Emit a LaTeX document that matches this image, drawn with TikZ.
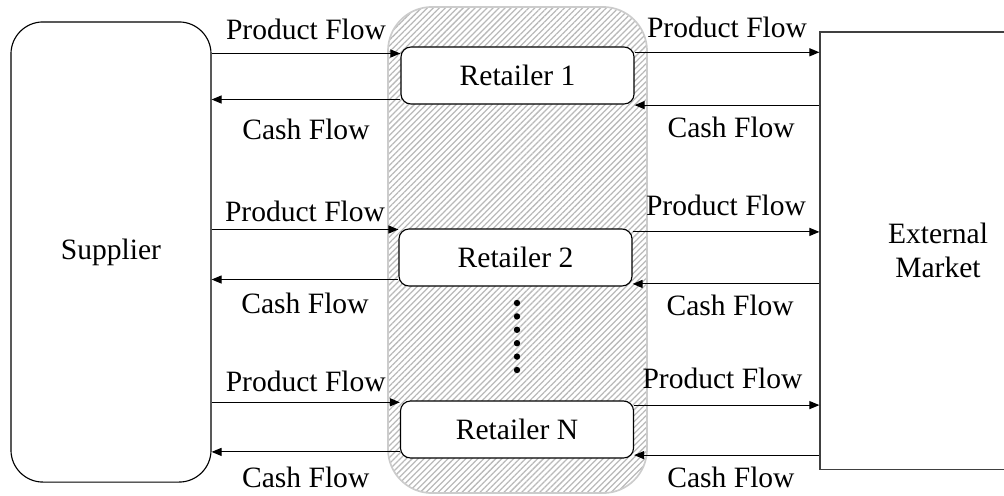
\documentclass[tikz,border=0pt]{standalone}
\usepackage{fontspec}
\setmainfont{Liberation Serif}
\usepackage{tikz}
\usetikzlibrary{arrows.meta,patterns.meta}

\begin{document}
\begin{tikzpicture}[
        x=0.025cm, y=-0.025cm,
        font=\fontsize{21}{24}\selectfont,
        party/.style={rectangle, draw=black, line width=0.8pt, align=center},
        retailer/.style={rectangle, draw=black, fill=white, line width=0.8pt, rounded corners=2.5mm, minimum width=5.825cm, minimum height=1.425cm},
        zone/.style={rectangle, draw=gray!40, line width=1.2pt, rounded corners=11mm, minimum width=6.475cm, minimum height=12.15cm, pattern={Lines[angle=45,distance=3pt,line width=0.9pt]}, pattern color=gray!55},
        flow/.style={-{Triangle[length=2.5mm,width=2mm]}, line width=0.8pt, black}
    ]
        \useasboundingbox (0,0) rectangle (1004,495);
        \clip (0,0) rectangle (1004,495);

        % Retailer zone
        \node[zone] (zone) at (517.5,250) {};

        % Ends of the chain
        \node[party, rounded corners=8mm, minimum width=5cm, minimum height=11.5cm] (sup) at (111,252) {Supplier};
        \node[party, draw=black!75, minimum width=5.9cm, minimum height=10.925cm] (mkt) at (938,250.5) {External\\Market};

        % Retailers
        \node[retailer] (r1) at (517.5,75.5) {Retailer 1};
        \node[retailer] (r2) at (515.5,257.5) {Retailer 2};
        \node[retailer] (rN) at (517,429.5) {Retailer N};

        % Dots between retailers
        \foreach \k in {0,...,5}
            \fill (517,303+13.4*\k) circle (0.8mm);

        % Supplier <-> retailers
        \draw[flow] ([yshift=5.5mm]sup.east |- r1.west) -- node[above=6pt] {Product Flow} ([yshift=5.5mm]r1.west);
        \draw[flow] ([yshift=-6mm]r1.west) -- node[below=10pt] {Cash Flow} ([yshift=-6mm]sup.east |- r1.west);
        \draw[flow] ([yshift=7mm]sup.east |- r2.west) -- node[above=2pt] {Product Flow} ([yshift=7mm]r2.west);
        \draw[flow] ([yshift=-5.5mm]r2.west) -- node[below=6pt] {Cash Flow} ([yshift=-5.5mm]sup.east |- r2.west);
        \draw[flow] ([yshift=6.8mm]sup.east |- rN.west) -- node[above=4pt] {Product Flow} ([yshift=6.8mm]rN.west);
        \draw[flow] ([yshift=-5.6mm]rN.west) -- node[below=7pt] {Cash Flow} ([yshift=-5.6mm]sup.east |- rN.west);

        % Retailers <-> market
        \draw[flow] ([yshift=5.8mm]r1.east) -- node[above=6.5pt] {Product Flow} ([yshift=5.8mm]mkt.west |- r1.east);
        \draw[flow] ([yshift=-7.4mm]mkt.west |- r1.east) -- node[below=4.5pt, xshift=3pt] {Cash Flow} ([yshift=-7.4mm]r1.east);
        \draw[flow] ([yshift=6.4mm]r2.east) -- node[above=8pt] {Product Flow} ([yshift=6.4mm]mkt.west |- r2.east);
        \draw[flow] ([yshift=-6.6mm]mkt.west |- r2.east) -- node[below=4pt, xshift=3pt] {Cash Flow} ([yshift=-6.6mm]r2.east);
        \draw[flow] ([yshift=6.1mm]rN.east) -- node[above=8pt, xshift=-3pt] {Product Flow} ([yshift=6.1mm]mkt.west |- rN.east);
        \draw[flow] ([yshift=-6.4mm]mkt.west |- rN.east) -- node[below=5pt, xshift=3pt] {Cash Flow} ([yshift=-6.4mm]rN.east);

    \end{tikzpicture}
\end{document}
